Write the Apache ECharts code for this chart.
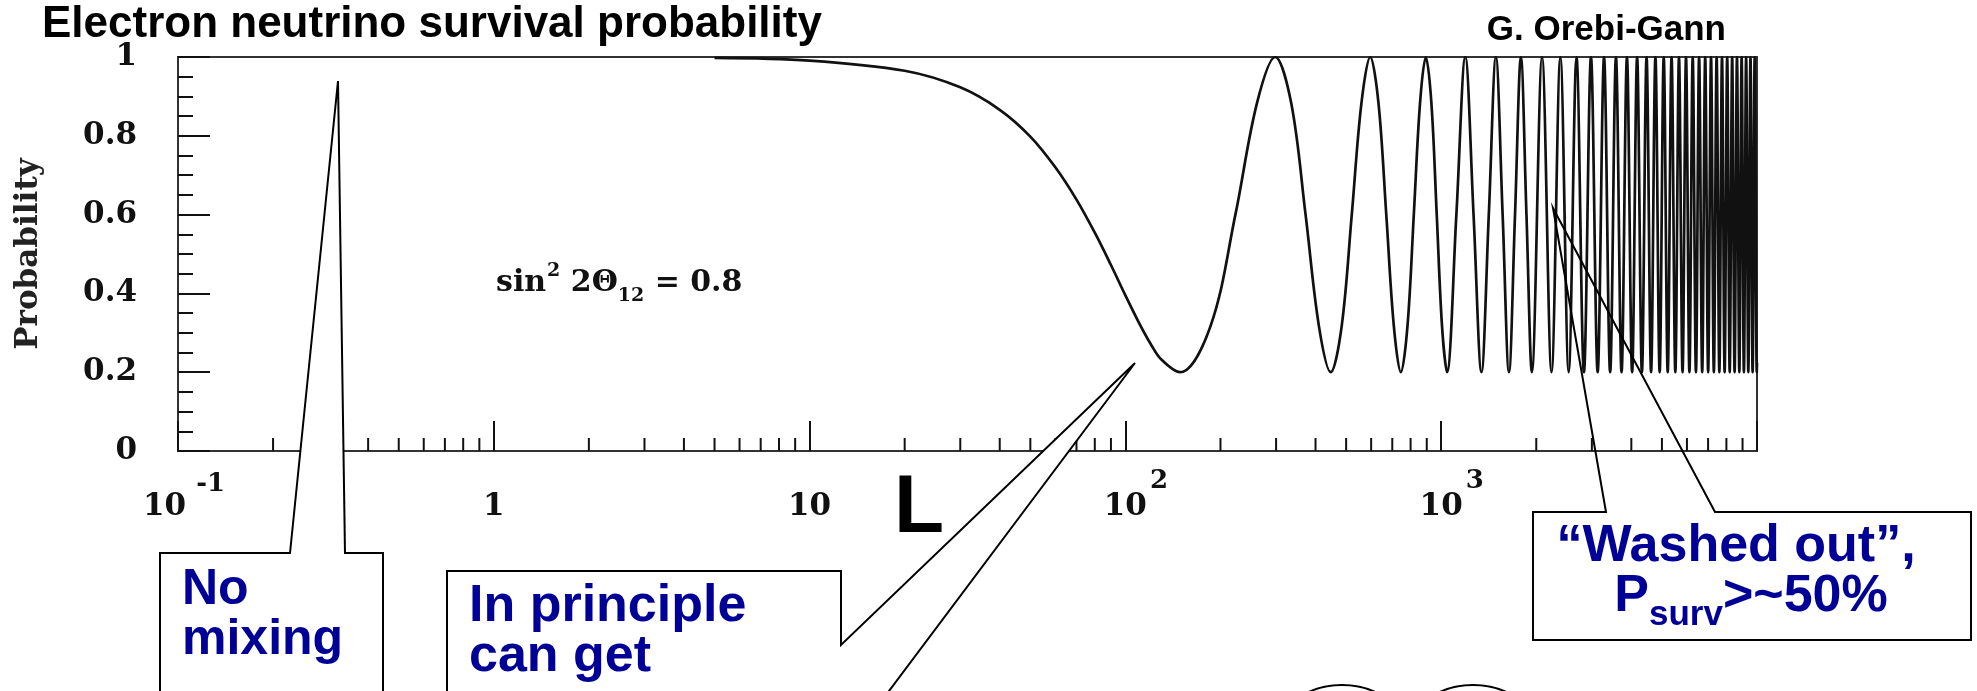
<!DOCTYPE html>
<html>
<head>
<meta charset="utf-8">
<script src="https://cdn.jsdelivr.net/npm/echarts@6/dist/echarts.min.js"></script>
<style>
  html, body { margin: 0; padding: 0; background: #fff; }
  #chart { width: 1977px; height: 691px; }
</style>
</head>
<body>
<div id="chart"></div>
<script>
// Baseline L and electron-neutrino survival probability (sin^2 2θ12 = 0.8)
const baselineL = [
  5, 10, 20, 30, 40, 50, 60, 70, 80, 90, 100, 110, 120, 130, 149,
  186, 223, 261, 298,
  335, 372, 410, 447,
  484, 521, 559, 596,
  633, 670, 708, 745,
  782, 819, 857, 894,
  931, 968, 1006, 1043,
  1117, 1192, 1266, 1341, 1415, 1490, 1565, 1639, 1713, 1788, 1862, 1937,
  2086, 2235, 2384, 2533, 2682, 2831, 2980, 3129, 3278, 3427,
  3576, 3725, 3874, 4023, 4172, 4321, 4470, 4619, 4768, 4917,
  5066, 5215, 5364, 5513, 5662, 5811, 5960, 6109, 6258, 6407,
  6556, 6705, 6854, 7003, 7152, 7301, 7450, 7599, 7748, 7897,
  8046, 8195, 8344, 8493, 8642, 8791, 8940, 9089, 9238, 9387,
  9536, 9685, 9834, 9983, 10000
];
const survivalP = [
  0.998, 0.991, 0.965, 0.923, 0.866, 0.798, 0.720, 0.638, 0.554, 0.472, 0.395, 0.328, 0.273, 0.232, 0.2,
  0.317, 0.6, 0.883, 1,
  0.883, 0.6, 0.317, 0.2,
  0.317, 0.6, 0.883, 1,
  0.883, 0.6, 0.317, 0.2,
  0.317, 0.6, 0.883, 1,
  0.883, 0.6, 0.317, 0.2,
  0.6, 1, 0.6, 0.2, 0.6, 1, 0.6, 0.2, 0.6, 1, 0.6, 0.2,
  1, 0.2, 1, 0.2, 1, 0.2, 1, 0.2, 1, 0.2,
  1, 0.2, 1, 0.2, 1, 0.2, 1, 0.2, 1, 0.2,
  1, 0.2, 1, 0.2, 1, 0.2, 1, 0.2, 1, 0.2,
  1, 0.2, 1, 0.2, 1, 0.2, 1, 0.2, 1, 0.2,
  1, 0.2, 1, 0.2, 1, 0.2, 1, 0.2, 1, 0.2,
  1, 0.2, 1, 0.2, 0.224
];

// Minor tick positions on the logarithmic L axis
const minorTickL = [
  0.2, 0.3, 0.4, 0.5, 0.6, 0.7, 0.8, 0.9,
  2, 3, 4, 5, 6, 7, 8, 9,
  20, 30, 40, 50, 60, 70, 80, 90,
  200, 300, 400, 500, 600, 700, 800, 900,
  2000, 3000, 4000, 5000, 6000, 7000, 8000, 9000
];

// Decade labels (exponent -> label)
const xTickExponents = [-1, 0, 1, 2, 3, 4];
const xTickLabels = ['{bl|10}{sl|-1}', '1', '10', '{bp|10}{s|2}', '{bp|10}{s|3}', ''];

const serif = 'DejaVu Serif';
const sans = 'Liberation Sans';
const navy = '#000096';

const chart = echarts.init(document.getElementById('chart'), null, { renderer: 'canvas' });

chart.setOption({
  animation: false,
  backgroundColor: '#fff',
  grid: {
    left: 178, right: 220, top: 57, bottom: 240,
    containLabel: false,
    outerBoundsMode: 'none',
    show: true,
    borderColor: '#333',
    borderWidth: 2,
    backgroundColor: 'transparent'
  },
  xAxis: {
    type: 'log',
    logBase: 10,
    min: 0.1,
    max: 10000,
    axisLine: { show: true, lineStyle: { color: '#333', width: 2 } },
    axisTick: { show: true, inside: true, length: 30, lineStyle: { color: '#111', width: 2 } },
    minorTick: { show: false },
    splitLine: { show: false },
    axisLabel: {
      show: true,
      showMinLabel: true,
      showMaxLabel: true,
      margin: 17,
      lineHeight: 78,
      fontFamily: serif,
      fontWeight: 'bold',
      fontSize: 31,
      color: '#111',
      formatter: function (value) {
        const e = Math.round(Math.log10(value));
        const i = xTickExponents.indexOf(e);
        return i >= 0 ? xTickLabels[i] : '';
      },
      rich: {
        bl: { fontFamily: serif, fontWeight: 'bold', fontSize: 31, color: '#111', padding: [0, 10, 0, 12] },
        sl: { fontFamily: serif, fontWeight: 'bold', fontSize: 26, color: '#111', padding: [0, 0, 46, 0] },
        bp: { fontFamily: serif, fontWeight: 'bold', fontSize: 31, color: '#111', padding: [0, 0, 0, 21] },
        s:  { fontFamily: serif, fontWeight: 'bold', fontSize: 26, color: '#111', padding: [0, 0, 52, 3] }
      }
    }
  },
  yAxis: {
    type: 'value',
    min: 0,
    max: 1,
    interval: 0.2,
    name: 'Probability',
    nameLocation: 'middle',
    nameRotate: 90,
    nameGap: 134,
    nameTextStyle: { fontFamily: serif, fontWeight: 'bold', fontSize: 31, color: '#222' },
    axisLine: { show: true, lineStyle: { color: '#333', width: 2 } },
    axisTick: { show: true, inside: true, length: 32, lineStyle: { color: '#111', width: 2 } },
    minorTick: { show: true, splitNumber: 4, length: 15, lineStyle: { color: '#111', width: 2 } },
    splitLine: { show: false },
    minorSplitLine: { show: false },
    axisLabel: {
      margin: 41,
      fontFamily: serif,
      fontWeight: 'bold',
      fontSize: 31,
      color: '#111'
    }
  },
  series: [
    {
      name: 'P(νe → νe)',
      type: 'line',
      data: baselineL.map((l, i) => [l, survivalP[i]]),
      showSymbol: false,
      symbol: 'none',
      smooth: 0.35,
      lineStyle: { color: '#111', width: 2.7 },
      z: 3
    },
    {
      name: 'minor ticks',
      type: 'custom',
      data: minorTickL.map(v => [v, 0]),
      renderItem: function (params, api) {
        const p = api.coord([api.value(0), 0]);
        return {
          type: 'line',
          shape: { x1: p[0], y1: p[1], x2: p[0], y2: p[1] - 13 },
          style: { stroke: '#111', lineWidth: 2 }
        };
      },
      z: 2
    }
  ],
  graphic: {
    elements: [
      {
        type: 'text', x: 42, y: 25, z: 100,
        style: {
          text: 'Electron neutrino survival probability',
          fontFamily: sans, fontWeight: 'bold', fontSize: 44, fill: '#000',
          align: 'left', verticalAlign: 'middle'
        }
      },
      {
        type: 'text', x: 1726, y: 30, z: 100,
        style: {
          text: 'G. Orebi-Gann',
          fontFamily: sans, fontWeight: 'bold', fontSize: 35, fill: '#000',
          align: 'right', verticalAlign: 'middle'
        }
      },
      {
        type: 'text', x: 496, y: 283, z: 100,
        style: {
          text: '{m|sin}{sup|2}{m| 2Θ}{sub|12}{m| = 0.8}',
          fontFamily: serif, fontWeight: 'bold', fontSize: 30, fill: '#111',
          align: 'left', verticalAlign: 'middle',
          rich: {
            m: { fontFamily: serif, fontWeight: 'bold', fontSize: 30, fill: '#111', color: '#111' },
            sup: { fontFamily: serif, fontWeight: 'bold', fontSize: 19, fill: '#111', color: '#111', padding: [0, 0, 24, 1] },
            sub: { fontFamily: serif, fontWeight: 'bold', fontSize: 19, fill: '#111', color: '#111', padding: [26, 0, 0, 0] }
          }
        }
      },
      {
        type: 'text', x: 894, y: 509, z: 50,
        style: {
          text: 'L',
          fontFamily: sans, fontWeight: 'bold', fontSize: 82, fill: '#000',
          align: 'left', verticalAlign: 'middle'
        }
      },
      // "No mixing" callout
      {
        type: 'polygon', z: 100,
        shape: { points: [[160, 553], [290, 553], [338, 81], [345, 553], [383, 553], [383, 760], [160, 760]] },
        style: { fill: '#fff', stroke: '#000', lineWidth: 2 }
      },
      {
        type: 'text', x: 182, y: 590, z: 101,
        style: { text: 'No', fontFamily: sans, fontWeight: 'bold', fontSize: 50, fill: navy, align: 'left', verticalAlign: 'middle' }
      },
      {
        type: 'text', x: 182, y: 640, z: 101,
        style: { text: 'mixing', fontFamily: sans, fontWeight: 'bold', fontSize: 50, fill: navy, align: 'left', verticalAlign: 'middle' }
      },
      // "In principle" callout
      {
        type: 'polygon', z: 100,
        shape: { points: [[447, 571], [841, 571], [841, 645], [1135, 363], [841, 755], [841, 780], [447, 780]] },
        style: { fill: '#fff', stroke: '#000', lineWidth: 2 }
      },
      {
        type: 'text', x: 469, y: 607, z: 101,
        style: { text: 'In principle', fontFamily: sans, fontWeight: 'bold', fontSize: 52, fill: navy, align: 'left', verticalAlign: 'middle' }
      },
      {
        type: 'text', x: 469, y: 657, z: 101,
        style: { text: 'can get', fontFamily: sans, fontWeight: 'bold', fontSize: 52, fill: navy, align: 'left', verticalAlign: 'middle' }
      },
      // "Washed out" callout
      {
        type: 'polygon', z: 100,
        shape: { points: [[1533, 512], [1606, 512], [1553, 208], [1715, 512], [1971, 512], [1971, 640], [1533, 640]] },
        style: { fill: 'none', stroke: '#000', lineWidth: 2 }
      },
      {
        type: 'text', x: 1736, y: 547, z: 101,
        style: { text: '\u201CWashed out\u201D,', fontFamily: sans, fontWeight: 'bold', fontSize: 52, fill: navy, align: 'center', verticalAlign: 'middle' }
      },
      {
        type: 'text', x: 1751, y: 597, z: 101,
        style: {
          text: '{m|P}{sub|surv}{m|>~50%}',
          fontFamily: sans, fontWeight: 'bold', fontSize: 52, fill: navy,
          align: 'center', verticalAlign: 'middle',
          rich: {
            m: { fontFamily: sans, fontWeight: 'bold', fontSize: 52, fill: navy, color: navy },
            sub: { fontFamily: sans, fontWeight: 'bold', fontSize: 35, fill: navy, color: navy, padding: [37, 0, 0, 0] }
          }
        }
      },
      // circles peeking in at the bottom edge
      {
        type: 'circle', x: 1342, y: 745, scaleX: 1.17, z: 100,
        shape: { cx: 0, cy: 0, r: 60 },
        style: { fill: 'none', stroke: '#000', lineWidth: 2 }
      },
      {
        type: 'circle', x: 1473, y: 745, scaleX: 1.17, z: 100,
        shape: { cx: 0, cy: 0, r: 60 },
        style: { fill: 'none', stroke: '#000', lineWidth: 2 }
      }
    ]
  }
});
</script>
</body>
</html>
